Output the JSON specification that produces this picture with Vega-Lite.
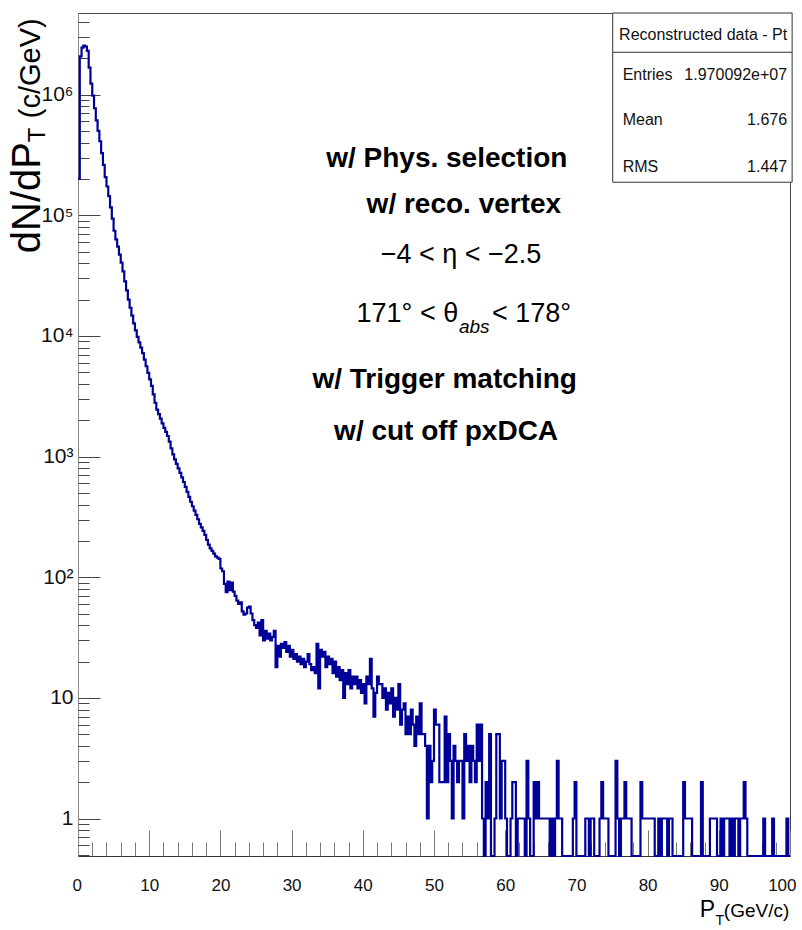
{
  "$schema": "https://vega.github.io/schema/vega-lite/v6.json",
  "width": 712,
  "height": 843,
  "autosize": {"type": "none"},
  "padding": {"left": 78, "top": 13, "right": 12, "bottom": 74},
  "background": "white",
  "config": {
    "view": {"stroke": "#444", "strokeWidth": 1},
    "axis": {"grid": false, "labelColor": "#111", "labelFont": "Liberation Sans, Arial, sans-serif"},
    "text": {"font": "Liberation Sans, Arial, sans-serif", "color": "black", "baseline": "alphabetic"}
  },
  "resolve": {"axis": {"x": "independent", "y": "independent"}},
  "data": {"values": [
    {"pt":0,"n":200000},{"pt":0.25,"n":2070000},{"pt":0.5,"n":2450000},{"pt":0.75,"n":2550000},{"pt":1,"n":2500000},{"pt":1.25,"n":2300000},{"pt":1.5,"n":1670000},{"pt":1.75,"n":1230000},{"pt":2,"n":980000},{"pt":2.25,"n":770000},
    {"pt":2.5,"n":610000},{"pt":2.75,"n":500000},{"pt":3,"n":410000},{"pt":3.25,"n":327000},{"pt":3.5,"n":261000},{"pt":3.75,"n":207000},{"pt":4,"n":173000},{"pt":4.25,"n":144000},{"pt":4.5,"n":116000},{"pt":4.75,"n":93500},
    {"pt":5,"n":74300},{"pt":5.25,"n":63000},{"pt":5.5,"n":54800},{"pt":5.75,"n":47200},{"pt":6,"n":40500},{"pt":6.25,"n":34200},{"pt":6.5,"n":28300},{"pt":6.75,"n":23800},{"pt":7,"n":20000},{"pt":7.25,"n":17100},
    {"pt":7.5,"n":14700},{"pt":7.75,"n":12700},{"pt":8,"n":11100},{"pt":8.25,"n":9800},{"pt":8.5,"n":8830},{"pt":8.75,"n":7980},{"pt":9,"n":7190},{"pt":9.25,"n":6350},{"pt":9.5,"n":5600},{"pt":9.75,"n":4930},
    {"pt":10,"n":4360},{"pt":10.25,"n":3850},{"pt":10.5,"n":3280},{"pt":10.75,"n":2790},{"pt":11,"n":2450},{"pt":11.25,"n":2250},{"pt":11.5,"n":2060},{"pt":11.75,"n":1880},{"pt":12,"n":1730},{"pt":12.25,"n":1600},
    {"pt":12.5,"n":1480},{"pt":12.75,"n":1330},{"pt":13,"n":1170},{"pt":13.25,"n":1040},{"pt":13.5,"n":946},{"pt":13.75,"n":869},{"pt":14,"n":798},{"pt":14.25,"n":733},{"pt":14.5,"n":671},{"pt":14.75,"n":615},
    {"pt":15,"n":560},{"pt":15.25,"n":509},{"pt":15.5,"n":463},{"pt":15.75,"n":422},{"pt":16,"n":387},{"pt":16.25,"n":356},{"pt":16.5,"n":328},{"pt":16.75,"n":302},{"pt":17,"n":277},{"pt":17.25,"n":259},
    {"pt":17.5,"n":242},{"pt":17.75,"n":224},{"pt":18,"n":204},{"pt":18.25,"n":186},{"pt":18.5,"n":173},{"pt":18.75,"n":165},{"pt":19,"n":157},{"pt":19.25,"n":149},{"pt":19.5,"n":145},{"pt":19.75,"n":142},
    {"pt":20,"n":118},{"pt":20.25,"n":112},{"pt":20.5,"n":88},{"pt":20.75,"n":75},{"pt":21,"n":92},{"pt":21.25,"n":78},{"pt":21.5,"n":90},{"pt":21.75,"n":76},{"pt":22,"n":70},{"pt":22.25,"n":64},
    {"pt":22.5,"n":60},{"pt":22.75,"n":62},{"pt":23,"n":52},{"pt":23.25,"n":49},{"pt":23.5,"n":50},{"pt":23.75,"n":56},{"pt":24,"n":57},{"pt":24.25,"n":50},{"pt":24.5,"n":44},{"pt":24.75,"n":40},
    {"pt":25,"n":38},{"pt":25.25,"n":42},{"pt":25.5,"n":33},{"pt":25.75,"n":44},{"pt":26,"n":30},{"pt":26.25,"n":36},{"pt":26.5,"n":31},{"pt":26.75,"n":34},{"pt":27,"n":30},{"pt":27.25,"n":32},
    {"pt":27.5,"n":36},{"pt":27.75,"n":18},{"pt":28,"n":27},{"pt":28.25,"n":22},{"pt":28.5,"n":28},{"pt":28.75,"n":26},{"pt":29,"n":29},{"pt":29.25,"n":24},{"pt":29.5,"n":27},{"pt":29.75,"n":22},
    {"pt":30,"n":25},{"pt":30.25,"n":21},{"pt":30.5,"n":23},{"pt":30.75,"n":20},{"pt":31,"n":22},{"pt":31.25,"n":19},{"pt":31.5,"n":21},{"pt":31.75,"n":18},{"pt":32,"n":20},{"pt":32.25,"n":23},
    {"pt":32.5,"n":19},{"pt":32.75,"n":17},{"pt":33,"n":18},{"pt":33.25,"n":16},{"pt":33.5,"n":28},{"pt":33.75,"n":12},{"pt":34,"n":25},{"pt":34.25,"n":22},{"pt":34.5,"n":24},{"pt":34.75,"n":18},
    {"pt":35,"n":22},{"pt":35.25,"n":19},{"pt":35.5,"n":21},{"pt":35.75,"n":16},{"pt":36,"n":20},{"pt":36.25,"n":15},{"pt":36.5,"n":18},{"pt":36.75,"n":14},{"pt":37,"n":17},{"pt":37.25,"n":10},
    {"pt":37.5,"n":16},{"pt":37.75,"n":13},{"pt":38,"n":17},{"pt":38.25,"n":12},{"pt":38.5,"n":15},{"pt":38.75,"n":13},{"pt":39,"n":15},{"pt":39.25,"n":12},{"pt":39.5,"n":14},{"pt":39.75,"n":11},
    {"pt":40,"n":13},{"pt":40.25,"n":9},{"pt":40.5,"n":15},{"pt":40.75,"n":13},{"pt":41,"n":21},{"pt":41.25,"n":12},{"pt":41.5,"n":7},{"pt":41.75,"n":11},{"pt":42,"n":15},{"pt":42.25,"n":13},
    {"pt":42.5,"n":13},{"pt":42.75,"n":10},{"pt":43,"n":12},{"pt":43.25,"n":8},{"pt":43.5,"n":11},{"pt":43.75,"n":9},{"pt":44,"n":12},{"pt":44.25,"n":7},{"pt":44.5,"n":10},{"pt":44.75,"n":8},
    {"pt":45,"n":13},{"pt":45.25,"n":6},{"pt":45.5,"n":8},{"pt":45.75,"n":9},{"pt":46,"n":5},{"pt":46.25,"n":7},{"pt":46.5,"n":5},{"pt":46.75,"n":8},{"pt":47,"n":6},{"pt":47.25,"n":4},
    {"pt":47.5,"n":7},{"pt":47.75,"n":5},{"pt":48,"n":9},{"pt":48.25,"n":5},{"pt":48.5,"n":5},{"pt":48.75,"n":4},{"pt":49,"n":1},{"pt":49.25,"n":4},{"pt":49.5,"n":2},{"pt":49.75,"n":3},
    {"pt":50,"n":8},{"pt":50.25,"n":6},{"pt":50.5,"n":6},{"pt":50.75,"n":2},{"pt":51,"n":2},{"pt":51.25,"n":2},{"pt":51.5,"n":7},{"pt":51.75,"n":2},{"pt":52,"n":5},{"pt":52.25,"n":3},
    {"pt":52.5,"n":1},{"pt":52.75,"n":4},{"pt":53,"n":3},{"pt":53.25,"n":2},{"pt":53.5,"n":3},{"pt":53.75,"n":3},{"pt":54,"n":1},{"pt":54.25,"n":5},{"pt":54.5,"n":3},{"pt":54.75,"n":4},
    {"pt":55,"n":2},{"pt":55.25,"n":4},{"pt":55.5,"n":3},{"pt":55.75,"n":2},{"pt":56,"n":6},{"pt":56.25,"n":3},{"pt":56.5,"n":6},{"pt":56.75,"n":1},{"pt":57,"n":0},{"pt":57.25,"n":2},
    {"pt":57.5,"n":1},{"pt":57.75,"n":5},{"pt":58,"n":0},{"pt":58.25,"n":0},{"pt":58.5,"n":1},{"pt":58.75,"n":5},{"pt":59,"n":5},{"pt":59.25,"n":1},{"pt":59.5,"n":3},{"pt":59.75,"n":3},
    {"pt":60,"n":1},{"pt":60.25,"n":0},{"pt":60.5,"n":0},{"pt":60.75,"n":1},{"pt":61,"n":2},{"pt":61.25,"n":2},{"pt":61.5,"n":0},{"pt":61.75,"n":1},{"pt":62,"n":1},{"pt":62.25,"n":1},
    {"pt":62.5,"n":1},{"pt":62.75,"n":0},{"pt":63,"n":3},{"pt":63.25,"n":1},{"pt":63.5,"n":0},{"pt":63.75,"n":0},{"pt":64,"n":2},{"pt":64.25,"n":1},{"pt":64.5,"n":2},{"pt":64.75,"n":1},
    {"pt":65,"n":1},{"pt":65.25,"n":1},{"pt":65.5,"n":1},{"pt":65.75,"n":1},{"pt":66,"n":1},{"pt":66.25,"n":0},{"pt":66.5,"n":1},{"pt":66.75,"n":0},{"pt":67,"n":1},{"pt":67.25,"n":3},
    {"pt":67.5,"n":1},{"pt":67.75,"n":1},{"pt":68,"n":0},{"pt":68.25,"n":0},{"pt":68.5,"n":0},{"pt":68.75,"n":0},{"pt":69,"n":0},{"pt":69.25,"n":0},{"pt":69.5,"n":1},{"pt":69.75,"n":2},
    {"pt":70,"n":0},{"pt":70.25,"n":0},{"pt":70.5,"n":0},{"pt":70.75,"n":0},{"pt":71,"n":0},{"pt":71.25,"n":1},{"pt":71.5,"n":1},{"pt":71.75,"n":0},{"pt":72,"n":1},{"pt":72.25,"n":1},
    {"pt":72.5,"n":0},{"pt":72.75,"n":0},{"pt":73,"n":0},{"pt":73.25,"n":1},{"pt":73.5,"n":2},{"pt":73.75,"n":1},{"pt":74,"n":1},{"pt":74.25,"n":1},{"pt":74.5,"n":0},{"pt":74.75,"n":0},
    {"pt":75,"n":0},{"pt":75.25,"n":0},{"pt":75.5,"n":3},{"pt":75.75,"n":1},{"pt":76,"n":0},{"pt":76.25,"n":1},{"pt":76.5,"n":1},{"pt":76.75,"n":2},{"pt":77,"n":1},{"pt":77.25,"n":1},
    {"pt":77.5,"n":1},{"pt":77.75,"n":0},{"pt":78,"n":0},{"pt":78.25,"n":0},{"pt":78.5,"n":0},{"pt":78.75,"n":0},{"pt":79,"n":2},{"pt":79.25,"n":1},{"pt":79.5,"n":1},{"pt":79.75,"n":1},
    {"pt":80,"n":1},{"pt":80.25,"n":1},{"pt":80.5,"n":1},{"pt":80.75,"n":1},{"pt":81,"n":0},{"pt":81.25,"n":0},{"pt":81.5,"n":1},{"pt":81.75,"n":0},{"pt":82,"n":1},{"pt":82.25,"n":1},
    {"pt":82.5,"n":1},{"pt":82.75,"n":0},{"pt":83,"n":1},{"pt":83.25,"n":1},{"pt":83.5,"n":0},{"pt":83.75,"n":0},{"pt":84,"n":0},{"pt":84.25,"n":0},{"pt":84.5,"n":0},{"pt":84.75,"n":0},
    {"pt":85,"n":2},{"pt":85.25,"n":1},{"pt":85.5,"n":1},{"pt":85.75,"n":1},{"pt":86,"n":1},{"pt":86.25,"n":0},{"pt":86.5,"n":0},{"pt":86.75,"n":0},{"pt":87,"n":0},{"pt":87.25,"n":0},
    {"pt":87.5,"n":2},{"pt":87.75,"n":0},{"pt":88,"n":0},{"pt":88.25,"n":0},{"pt":88.5,"n":0},{"pt":88.75,"n":1},{"pt":89,"n":1},{"pt":89.25,"n":1},{"pt":89.5,"n":1},{"pt":89.75,"n":0},
    {"pt":90,"n":0},{"pt":90.25,"n":1},{"pt":90.5,"n":0},{"pt":90.75,"n":1},{"pt":91,"n":1},{"pt":91.25,"n":1},{"pt":91.5,"n":0},{"pt":91.75,"n":1},{"pt":92,"n":0},{"pt":92.25,"n":1},
    {"pt":92.5,"n":1},{"pt":92.75,"n":0},{"pt":93,"n":1},{"pt":93.25,"n":1},{"pt":93.5,"n":2},{"pt":93.75,"n":1},{"pt":94,"n":0},{"pt":94.25,"n":0},{"pt":94.5,"n":0},{"pt":94.75,"n":0},
    {"pt":95,"n":0},{"pt":95.25,"n":0},{"pt":95.5,"n":0},{"pt":95.75,"n":0},{"pt":96,"n":0},{"pt":96.25,"n":1},{"pt":96.5,"n":0},{"pt":96.75,"n":0},{"pt":97,"n":0},{"pt":97.25,"n":0},
    {"pt":97.5,"n":1},{"pt":97.75,"n":0},{"pt":98,"n":0},{"pt":98.25,"n":0},{"pt":98.5,"n":0},{"pt":98.75,"n":0},{"pt":99,"n":0},{"pt":99.25,"n":0},{"pt":99.5,"n":1},{"pt":99.75,"n":0},
    {"pt":100,"n":0}
  ]},
  "layer": [
    {
      "mark": {"type": "line", "interpolate": "step-after", "stroke": "#000099", "strokeWidth": 2.2},
      "encoding": {
        "x": {"field": "pt", "type": "quantitative",
          "scale": {"domain": [0, 100], "nice": false, "zero": false},
          "axis": {"orient": "bottom", "title": null, "values": [0,10,20,30,40,50,60,70,80,90,100],
            "tickSize": -26, "tickColor": "#777", "domainColor": "#333", "labelPadding": 47, "labelFontSize": 17, "labelFlush": true, "labelFlushOffset": 6, "labelOverlap": false}},
        "y": {"field": "n", "type": "quantitative",
          "scale": {"type": "log", "domain": [0.489, 4740000], "nice": false, "clamp": true},
          "axis": {"orient": "left", "title": null, "values": [1,10,100,1000,10000,100000,1000000],
            "labelExpr": "datum.value == 1 ? '1' : datum.value == 10 ? '10' : datum.value == 100 ? '10²' : datum.value == 1000 ? '10³' : datum.value == 10000 ? '10⁴' : datum.value == 100000 ? '10⁵' : '10⁶'",
            "tickSize": -22, "tickColor": "#444", "domainColor": "#888", "labelPadding": 27, "labelFontSize": 21, "labelFlush": false, "labelOverlap": false, "labelBaseline": "middle"}}
      }
    },
    {
      "data": {"values": [{}]},
      "mark": {"type": "rect", "fill": "white", "stroke": "#333", "strokeWidth": 1},
      "encoding": {
        "x": {"datum": 75.1, "type": "quantitative",
          "axis": {"orient": "bottom", "title": null, "values": [2,4,6,8,12,14,16,18,22,24,26,28,32,34,36,38,42,44,46,48,52,54,56,58,62,64,66,68,72,74,76,78,82,84,86,88,92,94,96,98],
            "tickSize": -14, "tickColor": "#777", "labels": false, "domain": false}},
        "x2": {"datum": 100.3},
        "y": {"datum": 4740000, "type": "quantitative",
          "axis": {"orient": "left", "title": null, "values": [0.5,0.6,0.7,0.8,0.9,2,3,4,5,6,7,8,9,20,30,40,50,60,70,80,90,200,300,400,500,600,700,800,900,2000,3000,4000,5000,6000,7000,8000,9000,20000,30000,40000,50000,60000,70000,80000,90000,200000,300000,400000,500000,600000,700000,800000,900000,2000000,3000000,4000000],
            "tickSize": -11, "tickColor": "#444", "labels": false, "domain": false}},
        "y2": {"datum": 187600}
      }
    },
    {
      "data": {"values": [{}]},
      "mark": {"type": "rule", "stroke": "#333", "strokeWidth": 1},
      "encoding": {"x": {"datum": 75.1, "type": "quantitative", "axis": null}, "x2": {"datum": 100.3}, "y": {"datum": 2240000, "type": "quantitative", "axis": null}}
    },
    {
      "data": {"values": [{}]},
      "mark": {"type": "text", "text": "Reconstructed data - Pt", "fontSize": 16, "align": "center", "color": "#111"},
      "encoding": {"x": {"datum": 87.8, "type": "quantitative", "axis": null}, "y": {"datum": 2820000, "type": "quantitative", "axis": null}}
    },
    {
      "data": {"values": [{}]},
      "mark": {"type": "text", "text": "Entries", "fontSize": 16, "align": "left", "color": "#111"},
      "encoding": {"x": {"datum": 76.5, "type": "quantitative", "axis": null}, "y": {"datum": 1310000, "type": "quantitative", "axis": null}}
    },
    {
      "data": {"values": [{}]},
      "mark": {"type": "text", "text": "1.970092e+07", "fontSize": 16, "align": "right", "color": "#111"},
      "encoding": {"x": {"datum": 99.6, "type": "quantitative", "axis": null}, "y": {"datum": 1310000, "type": "quantitative", "axis": null}}
    },
    {
      "data": {"values": [{}]},
      "mark": {"type": "text", "text": "Mean", "fontSize": 16, "align": "left", "color": "#111"},
      "encoding": {"x": {"datum": 76.5, "type": "quantitative", "axis": null}, "y": {"datum": 557000, "type": "quantitative", "axis": null}}
    },
    {
      "data": {"values": [{}]},
      "mark": {"type": "text", "text": "1.676", "fontSize": 16, "align": "right", "color": "#111"},
      "encoding": {"x": {"datum": 99.6, "type": "quantitative", "axis": null}, "y": {"datum": 557000, "type": "quantitative", "axis": null}}
    },
    {
      "data": {"values": [{}]},
      "mark": {"type": "text", "text": "RMS", "fontSize": 16, "align": "left", "color": "#111"},
      "encoding": {"x": {"datum": 76.5, "type": "quantitative", "axis": null}, "y": {"datum": 227000, "type": "quantitative", "axis": null}}
    },
    {
      "data": {"values": [{}]},
      "mark": {"type": "text", "text": "1.447", "fontSize": 16, "align": "right", "color": "#111"},
      "encoding": {"x": {"datum": 99.6, "type": "quantitative", "axis": null}, "y": {"datum": 227000, "type": "quantitative", "axis": null}}
    },
    {
      "data": {"values": [{}]},
      "mark": {"type": "text", "text": "w/ Phys. selection", "fontWeight": "bold", "fontSize": 28, "align": "center"},
      "encoding": {"x": {"datum": 51.8, "type": "quantitative", "axis": null}, "y": {"datum": 250000, "type": "quantitative", "axis": null}}
    },
    {
      "data": {"values": [{}]},
      "mark": {"type": "text", "text": "w/ reco. vertex", "fontWeight": "bold", "fontSize": 28, "align": "center"},
      "encoding": {"x": {"datum": 54.2, "type": "quantitative", "axis": null}, "y": {"datum": 104000, "type": "quantitative", "axis": null}}
    },
    {
      "data": {"values": [{}]},
      "mark": {"type": "text", "text": "−4 < η < −2.5", "fontSize": 27, "align": "center"},
      "encoding": {"x": {"datum": 53.8, "type": "quantitative", "axis": null}, "y": {"datum": 40000, "type": "quantitative", "axis": null}}
    },
    {
      "data": {"values": [{}]},
      "mark": {"type": "text", "text": "171°  <  θ", "fontSize": 27, "align": "right"},
      "encoding": {"x": {"datum": 53.4, "type": "quantitative", "axis": null}, "y": {"datum": 13000, "type": "quantitative", "axis": null}}
    },
    {
      "data": {"values": [{}]},
      "mark": {"type": "text", "text": "abs", "fontStyle": "italic", "fontSize": 19, "align": "left"},
      "encoding": {"x": {"datum": 53.5, "type": "quantitative", "axis": null}, "y": {"datum": 10500, "type": "quantitative", "axis": null}}
    },
    {
      "data": {"values": [{}]},
      "mark": {"type": "text", "text": "< 178°", "fontSize": 27, "align": "left"},
      "encoding": {"x": {"datum": 58.15, "type": "quantitative", "axis": null}, "y": {"datum": 13000, "type": "quantitative", "axis": null}}
    },
    {
      "data": {"values": [{}]},
      "mark": {"type": "text", "text": "w/ Trigger matching", "fontWeight": "bold", "fontSize": 28, "align": "center"},
      "encoding": {"x": {"datum": 51.5, "type": "quantitative", "axis": null}, "y": {"datum": 3690, "type": "quantitative", "axis": null}}
    },
    {
      "data": {"values": [{}]},
      "mark": {"type": "text", "text": "w/ cut off pxDCA", "fontWeight": "bold", "fontSize": 28, "align": "center"},
      "encoding": {"x": {"datum": 51.7, "type": "quantitative", "axis": null}, "y": {"datum": 1370, "type": "quantitative", "axis": null}}
    },
    {
      "data": {"values": [{}]},
      "mark": {"type": "text", "text": "dN/dP", "fontSize": 40, "angle": 270, "align": "left"},
      "encoding": {"x": {"datum": -5.35, "type": "quantitative", "axis": null}, "y": {"datum": 48400, "type": "quantitative", "axis": null}}
    },
    {
      "data": {"values": [{}]},
      "mark": {"type": "text", "text": "T", "fontSize": 24, "angle": 270, "align": "left"},
      "encoding": {"x": {"datum": -4.65, "type": "quantitative", "axis": null}, "y": {"datum": 403000, "type": "quantitative", "axis": null}}
    },
    {
      "data": {"values": [{}]},
      "mark": {"type": "text", "text": "(c/GeV)", "fontSize": 29, "angle": 270, "align": "left"},
      "encoding": {"x": {"datum": -5.35, "type": "quantitative", "axis": null}, "y": {"datum": 636000, "type": "quantitative", "axis": null}}
    },
    {
      "data": {"values": [{}]},
      "mark": {"type": "text", "text": "(GeV/c)", "fontSize": 19, "align": "right", "dy": 61},
      "encoding": {"x": {"datum": 99.9, "type": "quantitative", "axis": null}, "y": {"datum": 0.489, "type": "quantitative", "axis": null}}
    },
    {
      "data": {"values": [{}]},
      "mark": {"type": "text", "text": "P", "fontSize": 23, "align": "right", "dy": 61},
      "encoding": {"x": {"datum": 89.47, "type": "quantitative", "axis": null}, "y": {"datum": 0.489, "type": "quantitative", "axis": null}}
    },
    {
      "data": {"values": [{}]},
      "mark": {"type": "text", "text": "T", "fontSize": 14, "align": "left", "dy": 69},
      "encoding": {"x": {"datum": 89.52, "type": "quantitative", "axis": null}, "y": {"datum": 0.489, "type": "quantitative", "axis": null}}
    }
  ]
}
